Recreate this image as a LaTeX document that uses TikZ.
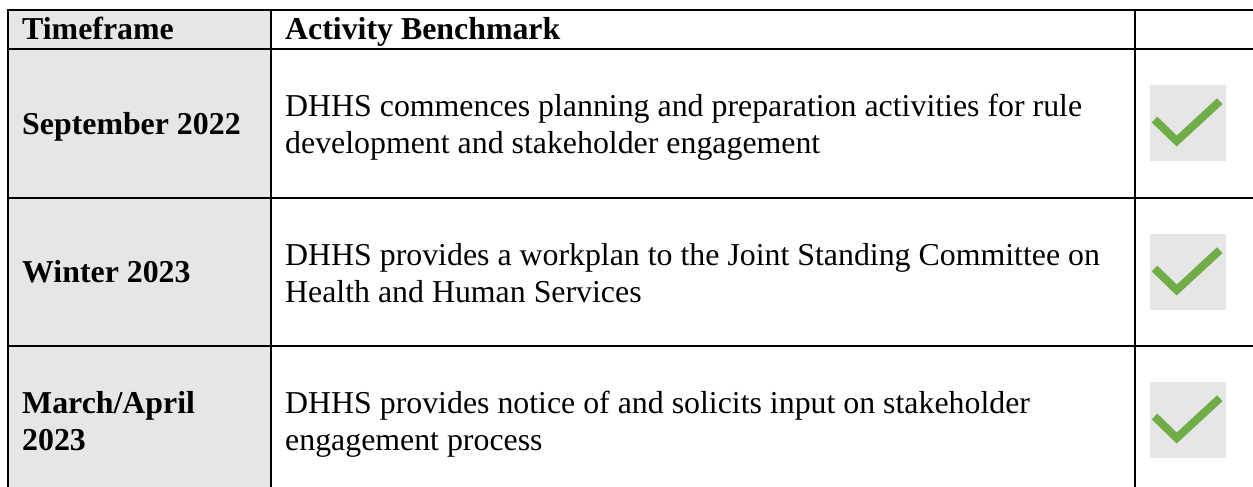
\documentclass[tikz,border=0pt]{standalone}
\usepackage{fontspec}
\setmainfont{Liberation Serif}
\usepackage{xcolor}
\usepackage{tikz}
\definecolor{cellgray}{HTML}{E6E6E6}
\definecolor{tickgreen}{HTML}{70AD47}

\begin{document}
\begin{tikzpicture}
[
	x=1pt, y=-1pt,
	cell/.style = {anchor=base west, inner sep=0pt, align=left, font=\fontsize{31.85}{36.6}\selectfont},
	head/.style = {cell, font=\fontsize{31.85}{36.6}\selectfont\bfseries},
	tabline/.style = {-, line width=2.4pt},
	checkbox/.style = {rectangle, fill=cellgray, minimum size=76pt, inner sep=0pt},
	checkmark/.style = {-, line width=8pt, draw=tickgreen, line join=miter}
]

\useasboundingbox (0,0) rectangle (1253,487);
\fill[cellgray] (8,10) rectangle (271,487);

\draw[tabline] (8,10) -- (1253,10);
\draw[tabline] (8,49) -- (1253,49);
\draw[tabline] (8,198) -- (1253,198);
\draw[tabline] (8,346) -- (1253,346);
\draw[tabline] (8,9) -- (8,487);
\draw[tabline] (271,9) -- (271,487);
\draw[tabline] (1135,9) -- (1135,487);

\node[head] (timeframe) at (22,40) {Timeframe};
\node[head] (benchmark) at (285,40) {Activity Benchmark};

\node[head] (sep) at (22,134) {September 2022};
\node[cell] (planning) at (285,153.3) {DHHS commences planning and preparation activities for rule\\development and stakeholder engagement};
\node[checkbox] (check1) at (1188,123) {};
\draw[checkmark] ([shift={(-33.5,-3.5)}] check1.center) -- ++(22.2,21.5) -- ++(43.1,-39.8);

\node[head] (winter) at (22,282) {Winter 2023};
\node[cell] (workplan) at (285,302) {DHHS provides a workplan to the Joint Standing Committee on\\Health and Human Services};
\node[checkbox] (check2) at (1188,272) {};
\draw[checkmark] ([shift={(-33.5,-3.5)}] check2.center) -- ++(22.2,21.5) -- ++(43.1,-39.8);

\node[head] (marapr) at (22,450) {March/April\\2023};
\node[cell] (notice) at (285,450) {DHHS provides notice of and solicits input on stakeholder\\engagement process};
\node[checkbox] (check3) at (1188,420) {};
\draw[checkmark] ([shift={(-33.5,-3.5)}] check3.center) -- ++(22.2,21.5) -- ++(43.1,-39.8);

\end{tikzpicture}
\end{document}
